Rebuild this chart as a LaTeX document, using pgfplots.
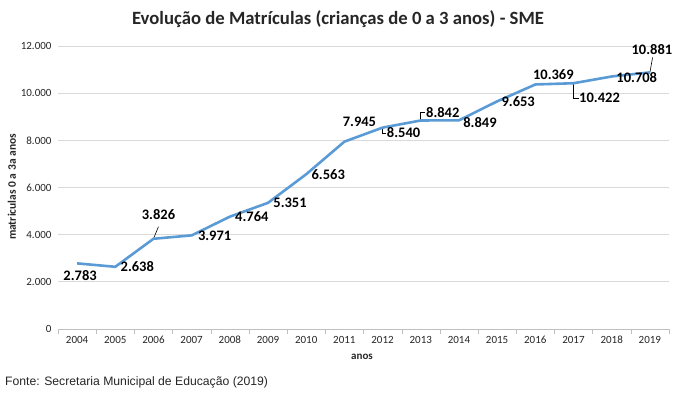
\documentclass[border=0pt]{standalone}
\usepackage{fontspec}
\setmainfont{Carlito}
\newfontfamily\arialf{Liberation Sans}
\usepackage{pgfplots}
\usepackage{pgfplotstable}
\pgfplotsset{compat=1.18}
\definecolor{lineblue}{HTML}{5B9BD5}
\definecolor{gridgray}{HTML}{D9D9D9}
\definecolor{axgray}{HTML}{BFBFBF}
\definecolor{txt}{HTML}{262626}
\pgfplotstableread{
x y dx dy
2004 2783 3 -12
2005 2638 22 0
2006 3826 5 24
2007 3971 23 0
2008 4764 22 0
2009 5351 22 0
2010 6563 22 0
2011 7945 15 20
2012 8540 21 -5
2013 8842 22 8
2014 8849 21 -2
2015 9653 21 0
2016 10369 18 10
2017 10422 26 -15
2018 10708 25 -1
2019 10881 2 23
}\datatable
\begin{document}
\begin{tikzpicture}[x=1bp,y=1bp]
\path[use as bounding box] (0,0) rectangle (680,-397);
\begin{axis}[
  at={(58bp,-329bp)}, anchor=south west,
  scale only axis, width=611bp, height=283bp,
  xmin=2003.5, xmax=2019.5, ymin=0, ymax=12000,
  xtick={2004,...,2019},
  minor xtick={2003.5,2004.5,...,2019.5},
  major tick length=0pt, minor tick length=5bp,
  tick align=outside,
  minor tick style={axgray},
  ytick={0,2000,...,12000},
  scaled y ticks=false,
  ymajorgrids, grid style={gridgray, line width=0.8bp},
  axis x line*=bottom, axis y line*=left,
  x axis line style={axgray, line width=0.8bp, -},
  y axis line style={draw=none},
  /pgf/number format/assume math mode=true,
  /pgf/number format/1000 sep={.},
  yticklabel={\pgfmathprintnumber[fixed,precision=0,1000 sep={.}]{\tick}},
  xticklabel style={/pgf/number format/1000 sep={}, font=\fontsize{11bp}{13bp}\selectfont, text=txt, text height=7.5bp, text depth=0pt, yshift=-3bp},
  yticklabel style={font=\fontsize{11bp}{13bp}\selectfont, text=txt, xshift=-3bp},
  clip=false,
]
\addplot[black, line width=0.6bp] coordinates {(2006,3826) (2006.13,4340)};
\addplot[black, line width=0.6bp] coordinates {(2012,8540) (2012,8286) (2012.1,8286)};
\addplot[black, line width=0.6bp] coordinates {(2013,8842) (2013,9181) (2013.12,9181)};
\addplot[black, line width=0.6bp] coordinates {(2017,10422) (2017,9786) (2017.15,9786)};
\addplot[black, line width=0.6bp] coordinates {(2019,10881) (2019.07,11517)};
\addplot[lineblue, line width=2.6bp, no marks, line join=round,
  nodes near coords,
  point meta=explicit,
  visualization depends on={\thisrow{dx} \as \dxv},
  visualization depends on={\thisrow{dy} \as \dyv},
  every node near coord/.style={anchor=center, xshift=\dxv bp, yshift=\dyv bp,
     font=\fontsize{14.5bp}{16bp}\selectfont\bfseries, text=black,
     /pgf/number format/1000 sep={.}, /pgf/number format/fixed},
] table[x=x, y=y, meta=y] {\datatable};
\end{axis}
\node[font=\fontsize{18.7bp}{22bp}\selectfont\bfseries, text=txt] at (338,-19) {Evolução de Matrículas (crianças de 0 a 3 anos) - SME};
\node[font=\fontsize{11.5bp}{13bp}\selectfont\bfseries, text=txt, rotate=90] at (12,-187) {matriculas 0 a 3a anos};
\node[font=\fontsize{11bp}{13bp}\selectfont\bfseries, text=txt] at (362,-357) {anos};
\node[font=\arialf\fontsize{12.2bp}{14bp}\selectfont, text=txt, anchor=west, inner sep=0pt] at (5,-382) {Fonte: Secretaria Municipal de Educação (2019)};
\end{tikzpicture}
\end{document}
